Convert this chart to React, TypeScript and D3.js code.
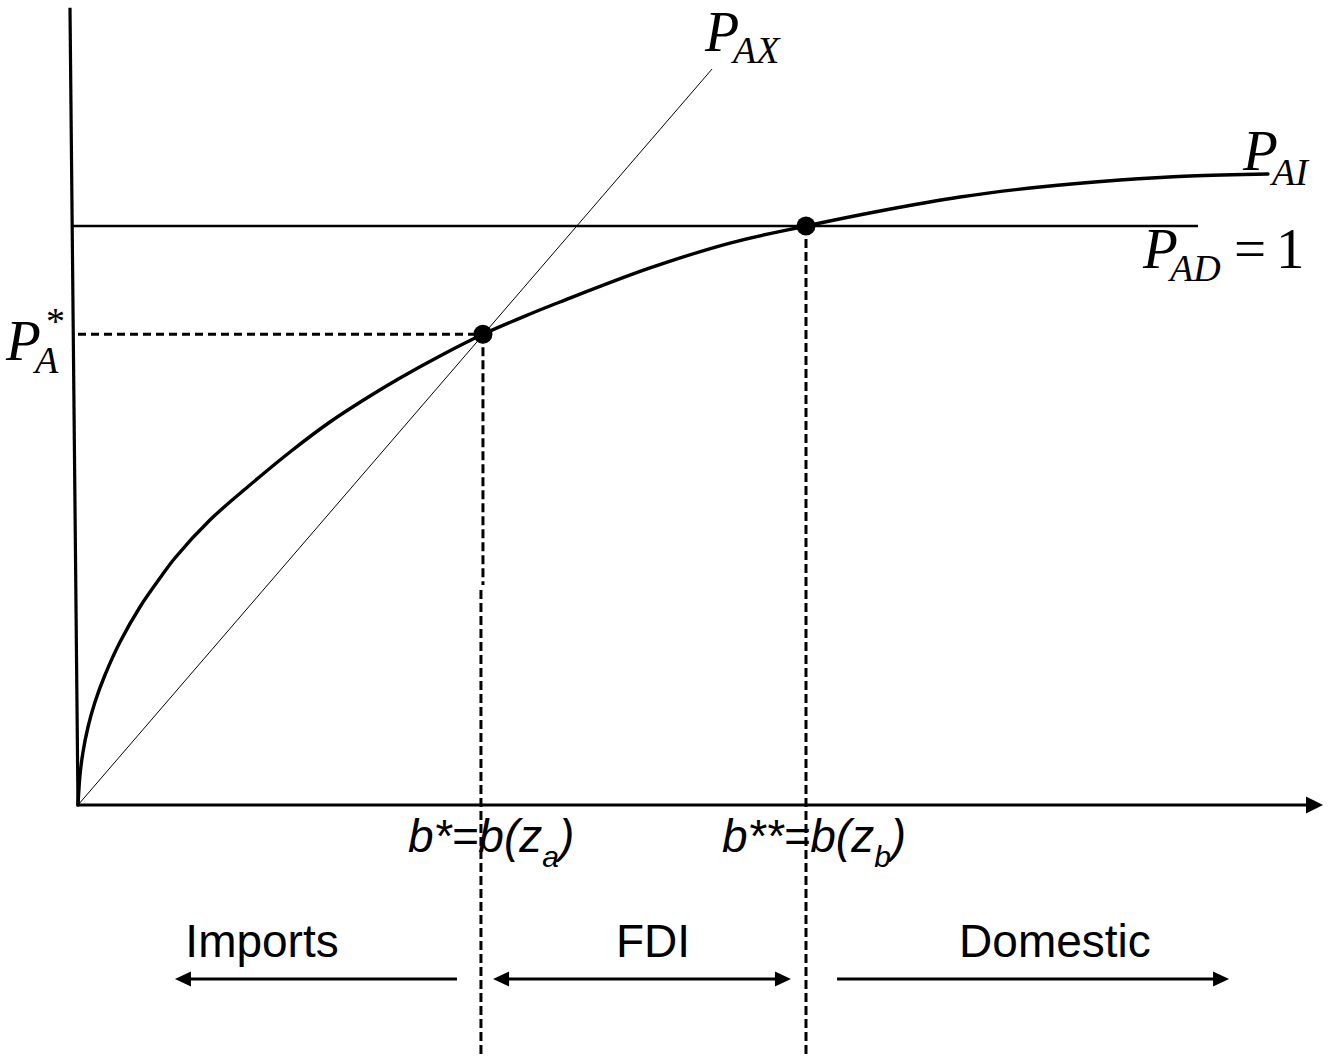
import React from 'react';
import * as d3 from 'd3';

const W = 1330;
const H = 1057;

// P_AI curve: b (x) and price (y)
const curveB = [0, 0.0162, 0.0406, 0.0812, 0.138, 0.219, 0.341, 0.503, 0.666, 0.787, 1.071, 1.396, 1.721, 2.045, 2.37, 2.614, 2.938, 3.287, 3.669, 3.912, 4.643, 5.292, 5.909, 6.51, 7.159, 7.808, 8.458, 9.026, 9.659];
const curveP = [0, 0.0518, 0.0915, 0.1347, 0.1779, 0.2245, 0.2815, 0.342, 0.392, 0.4266, 0.4922, 0.5527, 0.6097, 0.6615, 0.7064, 0.7375, 0.7755, 0.813, 0.848, 0.8687, 0.9275, 0.9706, 1.0, 1.0259, 1.05, 1.0674, 1.0794, 1.0864, 1.0898];

// P_AX line
const axB = [0, 5.146];
const axP = [0, 1.271];

// P_AD = 1 line
const adB = [-0.04, 9.091];
const adP = [1, 1];

// equilibrium points
const bStar = [3.287, 5.909];
const pStar = [0.813, 1.0];

// axis extents
const xAxisMax = 10;
const yAxisTop = { b: -0.065, p: 1.377 };

// region arrows (b from, b to) and labels
const regionNames = ['Imports', 'FDI', 'Domestic'];
const regionLabelB = [1.494, 4.667, 7.93];
const regionFrom = [3.076, 3.369, 6.161];
const regionTo = [0.787, 5.787, 9.343];
const regionDouble = [false, true, false];

const x = d3.scaleLinear().domain([0, 10]).range([78, 1310]);
const y = d3.scaleLinear().domain([0, 1]).range([805, 226]);

function head(tx: number, ty: number, dir: number, len = 16, hw = 7.5) {
  const bx = tx - dir * len;
  return `${tx},${ty} ${bx},${ty - hw} ${bx},${ty + hw}`;
}

export default function App() {
  const line = d3
    .line<number>()
    .x((_, i) => x(curveB[i]))
    .y((d) => y(d))
    .curve(d3.curveCatmullRom.alpha(0.5));
  const curvePath = line(curveP) || '';

  const serif = '"Liberation Serif", "Times New Roman", serif';
  const sans = '"Liberation Sans", Arial, sans-serif';
  const arrowY = 979;
  const labelY = 957;

  return (
    <svg width={W} height={H} style={{ position: 'absolute', left: 0, top: 0, background: '#fff' }}>
      {/* y axis */}
      <line x1={x(yAxisTop.b)} y1={y(yAxisTop.p)} x2={x(0)} y2={y(0)} stroke="#000" strokeWidth={3.2} />
      {/* x axis */}
      <line x1={x(0) - 1.5} y1={y(0)} x2={x(xAxisMax)} y2={y(0)} stroke="#000" strokeWidth={3} />
      <polygon points={head(x(xAxisMax) + 13, y(0), 1, 17, 8.5)} fill="#000" />

      {/* P_AD = 1 */}
      <line x1={x(adB[0])} y1={y(adP[0])} x2={x(adB[1])} y2={y(adP[1])} stroke="#000" strokeWidth={2.6} />

      {/* P_AX */}
      <line x1={x(axB[0])} y1={y(axP[0])} x2={x(axB[1])} y2={y(axP[1])} stroke="#000" strokeWidth={1} />

      {/* dashed guides */}
      <line x1={x(0)} y1={y(pStar[0])} x2={x(bStar[0])} y2={y(pStar[0])} stroke="#000" strokeWidth={3} strokeDasharray="8,5" />
      <line x1={x(bStar[0])} y1={y(pStar[0])} x2={x(bStar[0])} y2={585} stroke="#000" strokeWidth={3} strokeDasharray="9,4" />
      <line x1={x(bStar[0]) - 2} y1={590} x2={x(bStar[0]) - 2} y2={H} stroke="#000" strokeWidth={3} strokeDasharray="9,4" />
      <line x1={x(bStar[1])} y1={y(pStar[1])} x2={x(bStar[1])} y2={H} stroke="#000" strokeWidth={3} strokeDasharray="9,4" />

      {/* P_AI curve */}
      <path d={curvePath} fill="none" stroke="#000" strokeWidth={3.4} strokeLinecap="round" />

      {/* equilibrium dots */}
      {bStar.map((b, i) => (
        <circle key={i} cx={x(b)} cy={y(pStar[i])} r={9.5} fill="#000" />
      ))}

      {/* curve labels */}
      <g fontFamily={serif} fontStyle="italic" fill="#000">
        <text x={705} y={51} fontSize={56}>P</text>
        <text x={733} y={63} fontSize={38}>AX</text>

        <text x={1243} y={170} fontSize={57}>P</text>
        <text x={1272} y={185} fontSize={38}>AI</text>

        <text x={1143} y={268} fontSize={57}>P</text>
        <text x={1170} y={281} fontSize={38}>AD</text>

        <text x={6} y={360} fontSize={57}>P</text>
        <text x={35} y={373} fontSize={38}>A</text>
        <text x={46} y={334} fontSize={38} fontStyle="normal">*</text>
      </g>
      <g fontFamily={serif} fill="#000">
        <text x={1234} y={268} fontSize={57}>=</text>
        <text x={1276} y={268} fontSize={57}>1</text>
      </g>

      {/* b labels */}
      <g fontFamily={sans} fontStyle="italic" fill="#000">
        <text x={408} y={852} fontSize={46}>
          b*=b(z<tspan fontSize={30} dy={15}>a</tspan><tspan dy={-15}>)</tspan>
        </text>
        <text x={722} y={852} fontSize={46}>
          b**=b(z<tspan fontSize={30} dy={15}>b</tspan><tspan dy={-15}>)</tspan>
        </text>
      </g>

      {/* regions */}
      {regionNames.map((name, i) => (
        <g key={name}>
          <text x={x(regionLabelB[i])} y={labelY} fontFamily={sans} fontSize={46} textAnchor="middle" fill="#000">
            {name}
          </text>
          <line
            x1={x(regionFrom[i]) + (regionDouble[i] ? 14 : 0)}
            y1={arrowY}
            x2={x(regionTo[i]) - Math.sign(regionTo[i] - regionFrom[i]) * 14}
            y2={arrowY}
            stroke="#000"
            strokeWidth={3}
          />
          <polygon points={head(x(regionTo[i]), arrowY, Math.sign(regionTo[i] - regionFrom[i]))} fill="#000" />
          {regionDouble[i] && (
            <polygon points={head(x(regionFrom[i]), arrowY, -Math.sign(regionTo[i] - regionFrom[i]))} fill="#000" />
          )}
        </g>
      ))}
    </svg>
  );
}
